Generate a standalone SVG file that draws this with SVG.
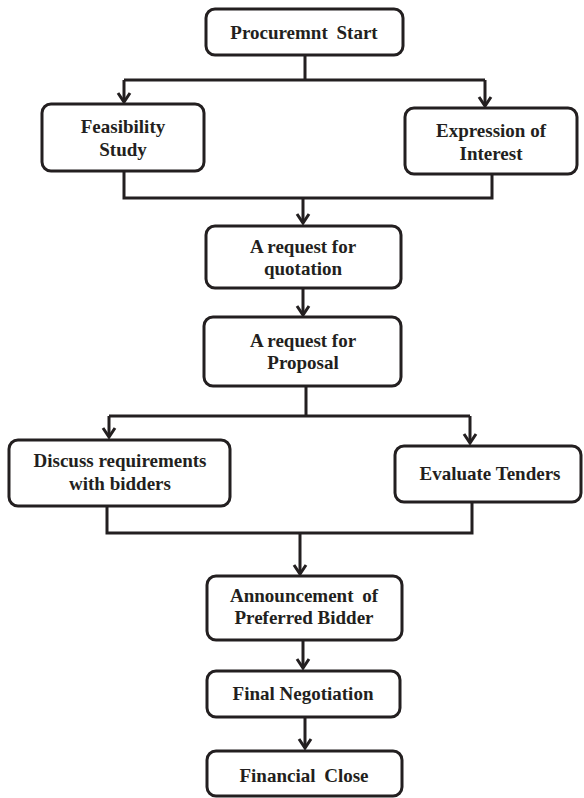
<svg xmlns="http://www.w3.org/2000/svg" width="584" height="798" viewBox="0 0 584 798">
<style>
.box{fill:#fff;stroke:#231f20;stroke-width:3}
.t{font-family:"Liberation Serif","Times New Roman",serif;font-weight:bold;font-size:19px;fill:#231f20;text-anchor:middle}
.c{fill:none;stroke:#231f20;stroke-width:3}
.a{marker-end:url(#arr)}
</style>
<defs>
<marker id="arr" markerUnits="userSpaceOnUse" markerWidth="20" markerHeight="20" refX="0" refY="0" orient="auto" overflow="visible">
<path d="M-9,-6 L0,0 L-9,6" fill="none" stroke="#231f20" stroke-width="3"/>
</marker>
</defs>
<rect width="584" height="798" fill="#fff"/>
<g id="connectors">
<path class="c" d="M305,55 V80 M124,80 H485"/>
<path class="c a" d="M124,80 V102"/>
<path class="c a" d="M485,80 V106"/>
<path class="c" d="M124,171 V198 H492 V174"/>
<path class="c a" d="M303,198 V223"/>
<path class="c a" d="M303,288 V315"/>
<path class="c" d="M306,386 V416 M109,416 H470"/>
<path class="c a" d="M109,416 V437"/>
<path class="c a" d="M470,416 V443"/>
<path class="c" d="M107,506 V533 H472 V502"/>
<path class="c a" d="M300,533 V574"/>
<path class="c a" d="M303,640 V668"/>
<path class="c a" d="M305,717 V748"/>
</g>
<g id="start"><rect class="box" x="206" y="9" width="197" height="46" rx="9"/><text class="t" x="304" y="39" word-spacing="4">Procuremnt Start</text></g>
<g id="feasibility"><rect class="box" x="42" y="104" width="162" height="67" rx="9"/><text class="t" x="123" y="133">Feasibility</text><text class="t" x="123" y="156">Study</text></g>
<g id="expression"><rect class="box" x="405" y="108" width="172" height="66" rx="9"/><text class="t" x="491" y="137">Expression of</text><text class="t" x="491" y="160">Interest</text></g>
<g id="rfq"><rect class="box" x="206" y="226" width="195" height="62" rx="9"/><text class="t" x="303" y="253">A request for</text><text class="t" x="303" y="275">quotation</text></g>
<g id="rfp"><rect class="box" x="204" y="317" width="197" height="69" rx="9"/><text class="t" x="303" y="347">A request for</text><text class="t" x="303" y="369">Proposal</text></g>
<g id="discuss"><rect class="box" x="9" y="440" width="221" height="66" rx="9"/><text class="t" x="120" y="467">Discuss requirements</text><text class="t" x="120" y="490">with bidders</text></g>
<g id="evaluate"><rect class="box" x="395" y="446" width="186" height="56" rx="9"/><text class="t" x="490" y="480">Evaluate Tenders</text></g>
<g id="announce"><rect class="box" x="207" y="576" width="195" height="64" rx="9"/><text class="t" x="304" y="602" word-spacing="4">Announcement of</text><text class="t" x="304" y="624">Preferred Bidder</text></g>
<g id="negotiation"><rect class="box" x="207" y="671" width="193" height="46" rx="9"/><text class="t" x="303" y="700">Final Negotiation</text></g>
<g id="close"><rect class="box" x="207" y="751" width="195" height="45" rx="9"/><text class="t" x="304" y="782" word-spacing="4">Financial Close</text></g>
</svg>
